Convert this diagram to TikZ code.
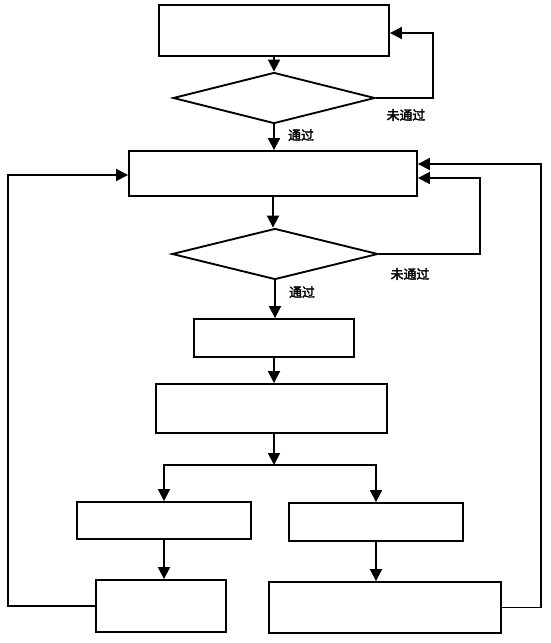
\documentclass[tikz,border=0pt]{standalone}
\usepackage{fontspec}
\newfontfamily\cjk[AutoFakeBold=2.5]{Noto Sans CJK SC}
\usetikzlibrary{shapes.geometric,arrows.meta,calc}
\tikzset{
  box/.style={
    draw,
    line width=1.6pt,
    inner sep=0pt
  },
  decision/.style={
    shape=diamond,
    draw,
    line width=1.6pt,
    inner sep=0pt
  },
  flow/.style={
    line width=1.6pt,
    -{Triangle[length=0.36cm,width=0.36cm]}
  },
  tag/.style={
    font=\cjk\bfseries\fontsize{11}{13}\selectfont
  }
}
\begin{document}
\begin{tikzpicture}[x=0.03cm,y=-0.03cm]
    \useasboundingbox (0,0) rectangle (550,643);
    \node[box, minimum width=6.9cm, minimum height=1.53cm] (b1) at (274,30.5) {};
    \node[decision, minimum width=6.06cm, minimum height=1.53cm] (d1) at (274,98) {};
    \node[box, minimum width=8.64cm, minimum height=1.35cm] (b2) at (273,173.5) {};
    \node[decision, minimum width=6.18cm, minimum height=1.53cm] (d2) at (275,254) {};
    \node[box, minimum width=4.8cm, minimum height=1.14cm] (b3) at (274,338) {};
    \node[box, minimum width=6.93cm, minimum height=1.47cm] (b4) at (271.5,408.5) {};
    \node[box, minimum width=5.22cm, minimum height=1.11cm] (b5) at (164,520.5) {};
    \node[box, minimum width=5.22cm, minimum height=1.14cm] (b6) at (376,522) {};
    \node[box, minimum width=3.9cm, minimum height=1.56cm] (b7) at (161,606) {};
    \node[box, minimum width=6.96cm, minimum height=1.53cm] (b8) at (385,607.5) {};
    \coordinate (split) at (274,465);
    \coordinate (lft) at (8,0);
    \coordinate (rgt1) at (433,0);
    \coordinate (rgt2) at (480,0);
    \coordinate (rgt3) at (541,0);

    \foreach \a/\b in {b1/d1,d1/b2,b2/d2,d2/b3,b3/b4}{
        \draw[flow] (\a.south) -- (\a.south |- \b.north);
    }
    \draw[flow] (split |- b4.south) -- (split);
    \draw[flow] (split) -| (b5);
    \draw[flow] (split) -| (b6);
    \draw[flow] (b5.south) -- (b5.south |- b7.north);
    \draw[flow] (b6.south) -- (b6.south |- b8.north);

    % loops back
    \draw[flow] (d1.east) -- (d1.east -| rgt1) |- ($(b1.east)+(0,2.5)$);
    \draw[flow] (d2.east) -- (d2.east -| rgt2) |- ($(b2.east)+(0,4.5)$);
    \draw[flow] (b7.west) -- (b7.west -| lft) |- ($(b2.west)+(0,1.5)$);
    \draw[flow] (b8.east) -- (b8.east -| rgt3) |- ($(b2.east)+(0,-9.5)$);

    \node[tag] (no1) at (406,115) {未通过};
    \node[tag] (yes1) at (301,135) {通过};
    \node[tag] (no2) at (410,274) {未通过};
    \node[tag] (yes2) at (302,292) {通过};
\end{tikzpicture}
\end{document}
